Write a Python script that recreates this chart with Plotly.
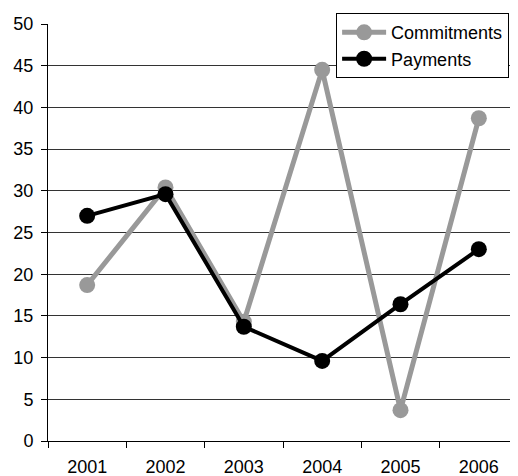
import plotly.graph_objects as go

years = ["2001", "2002", "2003", "2004", "2005", "2006"]
commitments = [18.7, 30.4, 14.3, 44.5, 3.7, 38.7]
payments = [27.0, 29.6, 13.7, 9.6, 16.4, 23.0]

fig = go.Figure()
fig.add_trace(go.Scatter(x=years, y=commitments, name="Commitments", mode="lines+markers",
                         line=dict(color="#999999", width=5),
                         marker=dict(color="#999999", size=16)))
fig.add_trace(go.Scatter(x=years, y=payments, name="Payments", mode="lines+markers",
                         line=dict(color="#000000", width=4),
                         marker=dict(color="#000000", size=16)))

fig.update_layout(
    width=510, height=468,
    margin=dict(l=40, r=0, t=16, b=35, autoexpand=False),
    plot_bgcolor="white", paper_bgcolor="white",
    font=dict(family="Liberation Sans, Arial", size=18, color="black"),
    legend=dict(x=0.613, y=1.026, xanchor="left", yanchor="top",
                bordercolor="black", borderwidth=1, bgcolor="white",
                font=dict(size=18), itemwidth=44, tracegroupgap=0),
    showlegend=True,
)
fig.update_xaxes(type="category", showgrid=False, showline=True, linecolor="black", linewidth=1,
                 ticks="outside", tickson="boundaries", ticklen=6, tickcolor="black",
                 range=[-0.5, 5.5], tickfont=dict(size=18), automargin=False,
                 ticklabelstandoff=9)
fig.update_yaxes(range=[0, 50], dtick=5, showgrid=True, gridcolor="#333333", gridwidth=1,
                 showline=True, linecolor="black", linewidth=1, ticks="outside", ticklen=6,
                 tickcolor="black", zeroline=False, tickfont=dict(size=18), automargin=False,
                 ticklabelstandoff=4)

fig.write_html("out.html")
